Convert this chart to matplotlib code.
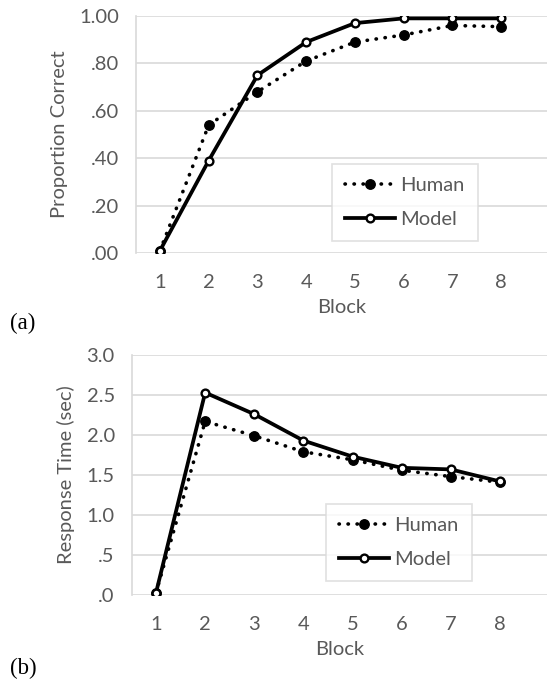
import matplotlib
matplotlib.use('Agg')
import matplotlib.pyplot as plt
from matplotlib.ticker import FixedLocator

plt.rcParams['font.family'] = ['Lato', 'DejaVu Sans']

blocks = [1, 2, 3, 4, 5, 6, 7, 8]

# (a) proportion correct
human_acc = [0.01, 0.54, 0.68, 0.81, 0.89, 0.92, 0.96, 0.955]
model_acc = [0.01, 0.39, 0.75, 0.89, 0.97, 0.99, 0.99, 0.99]
acc_ticks = [0.0, 0.2, 0.4, 0.6, 0.8, 1.0]
acc_labels = ['.00', '.20', '.40', '.60', '.80', '1.00']

# (b) response time
human_rt = [0.03, 2.17, 1.99, 1.79, 1.69, 1.56, 1.48, 1.41]
model_rt = [0.03, 2.53, 2.26, 1.93, 1.73, 1.59, 1.57, 1.42]
rt_ticks = [0.0, 0.5, 1.0, 1.5, 2.0, 2.5, 3.0]
rt_labels = ['.0', '.5', '1.0', '1.5', '2.0', '2.5', '3.0']

grey = '#595959'
grid = '#d9d9d9'
fs = 14.5

W, H = 547, 681
fig = plt.figure(figsize=(W / 100, H / 100), dpi=100)


def px_axes(left, top, right, bottom):
    return fig.add_axes([left / W, 1 - bottom / H, (right - left) / W, (bottom - top) / H])


def draw_panel(ax, human, model, ticks, labels, ylim, xlim, ylabel):
    ax.plot(blocks, human, linestyle=(0, (0.1, 2.4)), dash_capstyle='round', color='black', lw=2.6,
            marker='o', ms=6.8, mfc='black', mec='black', label='Human', zorder=3)
    ax.plot(blocks, model, linestyle='-', color='black', lw=2.7,
            marker='o', ms=5.6, mfc='white', mec='black', mew=1.7, label='Model', zorder=4)
    ax.set_ylim(*ylim)
    ax.set_xlim(*xlim)
    ax.yaxis.set_major_locator(FixedLocator(ticks))
    ax.set_yticklabels(labels)
    ax.set_xticks(blocks)
    ax.grid(axis='y', color=grid, lw=1.2, zorder=0)
    for s in ['top', 'right', 'bottom']:
        ax.spines[s].set_visible(False)
    ax.spines['left'].set_color(grid)
    ax.spines['left'].set_linewidth(1.2)
    ax.tick_params(length=0, labelsize=fs, colors=grey)
    ax.tick_params(axis='x', pad=15)
    ax.tick_params(axis='y', pad=12)
    ax.set_xlabel('Block', fontsize=fs, color=grey, labelpad=6)
    ax.set_ylabel(ylabel, fontsize=fs, color=grey, labelpad=8)
    for sp in ax.spines.values():
        sp.set_zorder(0)


def add_legend(ax, x0, y0):
    leg = ax.legend(loc='upper left', bbox_to_anchor=(x0, y0), borderaxespad=0,
                    fontsize=fs, frameon=True, fancybox=False, edgecolor=grid, labelcolor=grey,
                    handlelength=2.5, handletextpad=0.25, borderpad=0.65, labelspacing=0.85)
    leg.get_frame().set_linewidth(1.2)
    return leg


ax1 = px_axes(135.6, 16, 547, 253)
draw_panel(ax1, human_acc, model_acc, acc_ticks, acc_labels, (0, 1.0), (0.5, 8.94), 'Proportion Correct')
add_legend(ax1, (332 - 135.6) / (547 - 135.6), 1 - (164 - 16) / (253 - 16))

ax2 = px_axes(131.5, 355, 547, 595)
draw_panel(ax2, human_rt, model_rt, rt_ticks, rt_labels, (0, 3.0), (0.5, 8.96), 'Response Time (sec)')
add_legend(ax2, (326 - 131.5) / (547 - 131.5), 1 - (504 - 355) / (595 - 355))

fig.text(10 / W, 1 - 323 / H, '(a)', fontsize=16.5, family='Liberation Serif', va='center', ha='left')
fig.text(10 / W, 1 - 668 / H, '(b)', fontsize=16.5, family='Liberation Serif', va='center', ha='left')

fig.savefig('out.png', dpi=100)
